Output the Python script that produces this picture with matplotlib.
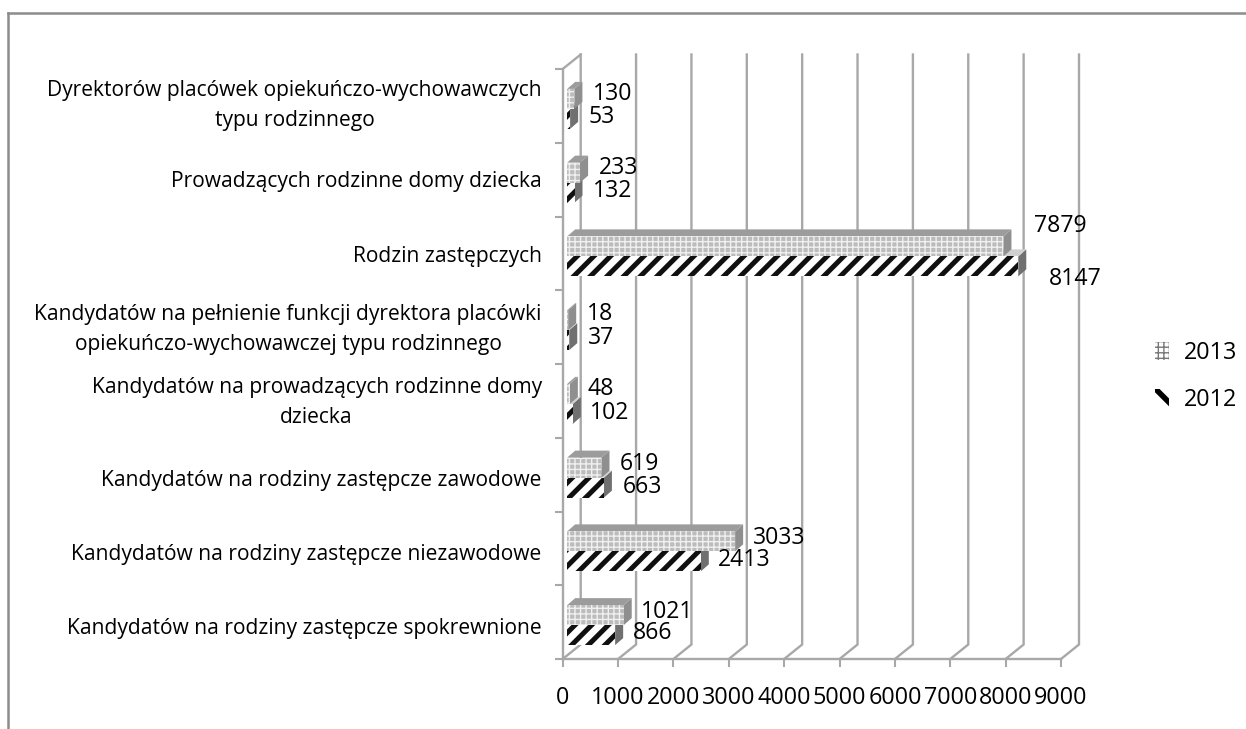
import matplotlib
matplotlib.use("Agg")
import matplotlib.pyplot as plt
from matplotlib.lines import Line2D
from matplotlib.patches import Patch

plt.rcParams['font.family'] = ['Open Sans', 'DejaVu Sans']

categories = [
    "Kandydatów na rodziny zastępcze spokrewnione",
    "Kandydatów na rodziny zastępcze niezawodowe",
    "Kandydatów na rodziny zastępcze zawodowe",
    "Kandydatów na prowadzących rodzinne domy\ndziecka",
    "Kandydatów na pełnienie funkcji dyrektora placówki\nopiekuńczo-wychowawczej typu rodzinnego",
    "Rodzin zastępczych",
    "Prowadzących rodzinne domy dziecka",
    "Dyrektorów placówek opiekuńczo-wychowawczych\ntypu rodzinnego",
]
values_2013 = [1021, 3033, 619, 48, 18, 7879, 233, 130]
values_2012 = [866, 2413, 663, 102, 37, 8147, 132, 53]
x_ticks = [0, 1000, 2000, 3000, 4000, 5000, 6000, 7000, 8000, 9000]

W, H = 1246, 729
fig = plt.figure(figsize=(W / 100, H / 100), dpi=100, facecolor='white')
X0, X1, Y0, Y1 = 562.7, 1061, 659, 69
ax = fig.add_axes([X0 / W, 1 - Y0 / H, (X1 - X0) / W, (Y0 - Y1) / H])
ax.set_xlim(0, 9000)
ax.set_ylim(-0.5, 7.5)
ax.patch.set_alpha(0)
PXX = (X1 - X0) / 9000
PXY = (Y0 - Y1) / 8

GRID = '#a8a8a8'
for xs, ys in (((8, W), (13, 13)), ((8, 8), (13, H))):
    fig.add_artist(Line2D([x / W for x in xs], [1 - y / H for y in ys], color='#8c8c8c', lw=1.8))

wall_dx = 18 / PXX
wall_dy = 14.5 / PXY
for t in x_ticks:
    ax.plot([t, t + wall_dx, t + wall_dx], [-0.5, -0.5 + wall_dy, 7.5 + wall_dy],
            color=GRID, lw=1.7, clip_on=False, zorder=1, solid_joinstyle='miter')
ax.plot([0, wall_dx], [7.5, 7.5 + wall_dy], color=GRID, lw=1.7, clip_on=False, zorder=1)

for s in ('top', 'right'):
    ax.spines[s].set_visible(False)
for s in ('left', 'bottom'):
    ax.spines[s].set_color(GRID)
    ax.spines[s].set_linewidth(1.7)
ax.set_xticks(x_ticks)
ax.set_yticks([i - 0.5 for i in range(9)])
ax.set_yticklabels([])
ax.tick_params(axis='both', color=GRID, width=1.5, length=5.5)
ax.tick_params(axis='x', labelsize=16.8, pad=14)

start = 4.5 / PXX
depth_x = 8 / PXX
depth_y = 7 / PXY
thick = 20 / PXY
shift = -3 / PXY


def bar(y, v, face, edge, hatch, side, top):
    left = start
    right = start + v
    ax.fill([right, right + depth_x, right + depth_x, right],
            [y, y + depth_y, y + thick + depth_y, y + thick],
            facecolor=side, lw=0, zorder=3)
    ax.fill([left, left + depth_x, right + depth_x, right],
            [y + thick, y + thick + depth_y, y + thick + depth_y, y + thick],
            facecolor=top, lw=0, zorder=3)
    ax.barh(y, v, height=thick, left=left, align='edge', facecolor=face, edgecolor=edge,
            hatch=hatch, lw=0, zorder=4)


plt.rcParams['hatch.linewidth'] = 3.6
for i in range(len(categories)):
    bar(i + shift - thick, values_2012[i], 'white', '#101010', '//', '#707070', '#d0d0d0')
plt.rcParams['hatch.linewidth'] = 1.0
for i in range(len(categories)):
    bar(i + shift, values_2013[i], '#bcbcbc', '#f0f0f0', '+++', '#8f8f8f', '#9c9c9c')

label_dx = [22, 22, 23, 22, 23, 35, 23, 23]
label_dy_2013 = [10, 10, 11, 12, 13, 27, 12, 12]
label_dy_2012 = [11, 12, 12, 12, 11, 26, 11, 11]
for i in range(len(categories)):
    for v, sign, dy in ((values_2013[i], 1, label_dy_2013[i]), (values_2012[i], -1, label_dy_2012[i])):
        ax.annotate(str(v), (v, i), xytext=(label_dx[i], sign * dy), textcoords='offset pixels',
                    ha='left', va='center', fontsize=16.6, color='black', zorder=6, annotation_clip=False)

label_shift = [6, 6, 6, 2, 2, 3, 2, 0]
for i, name in enumerate(categories):
    ax.annotate(name, (0, i), xytext=(-21, -label_shift[i]), textcoords='offset pixels',
                ha='right', va='center', multialignment='center', fontsize=15.1,
                linespacing=1.55, color='black', annotation_clip=False)


def legend_entry(label, hatch_color, hatch, hatch_lw, center_y):
    plt.rcParams['hatch.linewidth'] = hatch_lw
    handle = Patch(facecolor='white', edgecolor=hatch_color, hatch=hatch, lw=0, label=label)
    fig.legend(handles=[handle], loc='center left', bbox_to_anchor=(1155 / W, 1 - center_y / H),
               frameon=False, fontsize=16.8, handlelength=0.62, handleheight=0.8,
               handletextpad=0.62, borderpad=0, borderaxespad=0)


legend_entry('2013', '#777777', '+++', 1.0, 353)
legend_entry('2012', 'black', '\\', 4.0, 400)

fig.savefig('out.png', dpi=100)
